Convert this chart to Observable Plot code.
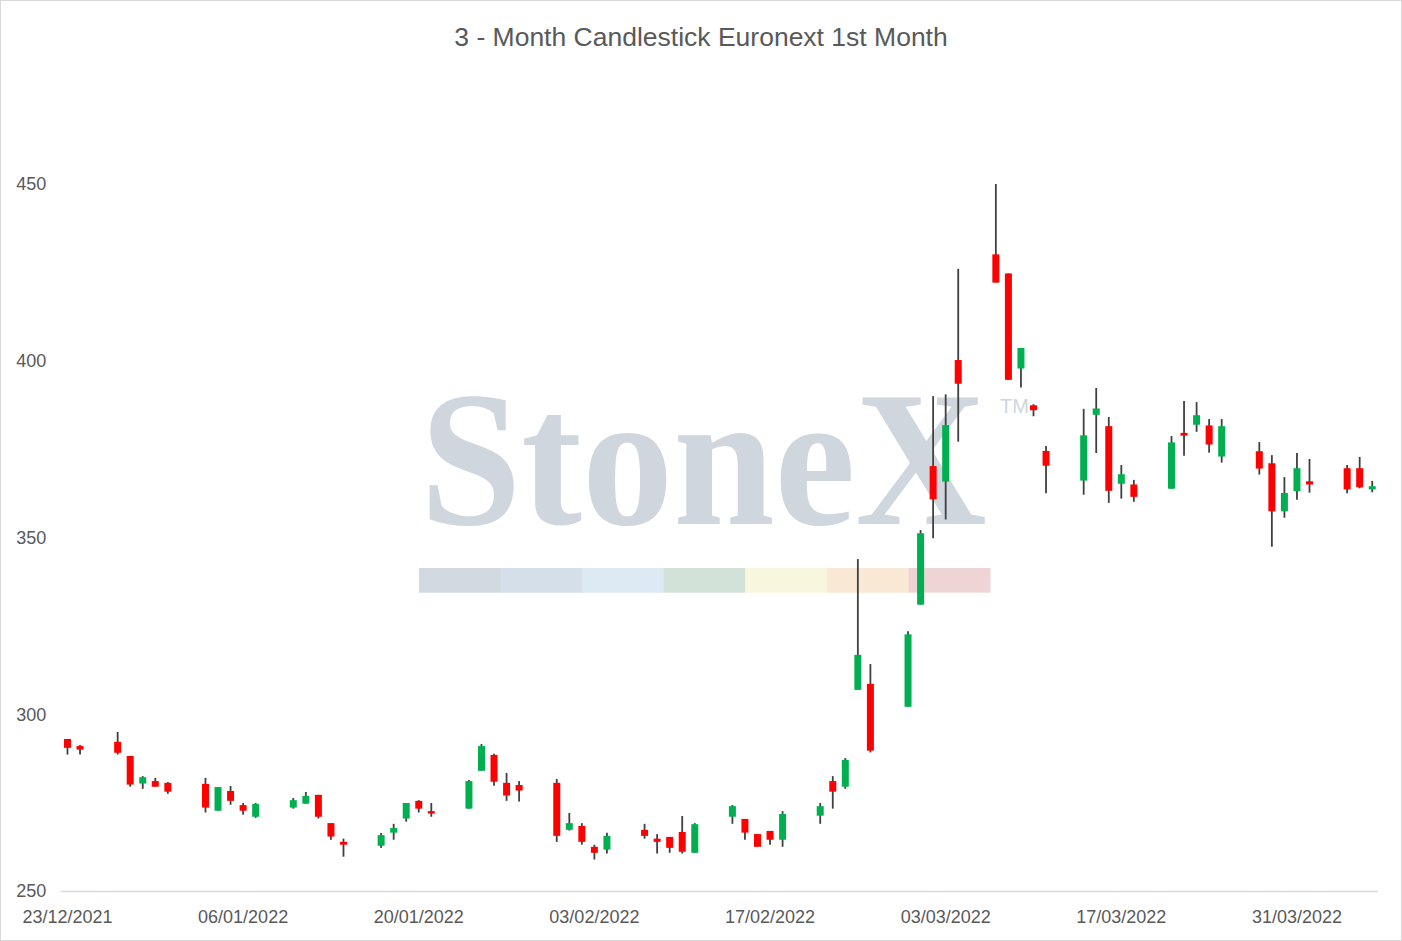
<!DOCTYPE html>
<html>
<head>
<meta charset="utf-8">
<script src="https://cdn.jsdelivr.net/npm/d3@7"></script>
<script src="https://cdn.jsdelivr.net/npm/@observablehq/plot@0.6"></script>
<style>
  html, body { margin: 0; padding: 0; background: #fff; }
  #wrap { position: relative; width: 1402px; height: 941px; box-sizing: border-box; border: 1px solid #d9d9d9; background: #fff; overflow: hidden; }
  #title { position: absolute; left: 0; right: 0; top: 23px; text-align: center; font: 26.5px/26px "Liberation Sans", Arial, sans-serif; color: #595959; }
  #chart { position: absolute; left: 0; top: 69px; }
</style>
</head>
<body>
<div id="wrap">
  <div id="title">3 - Month Candlestick Euronext 1st Month</div>
  <div id="chart"></div>
</div>
<script>
const dates = [
  "2021-12-23","2021-12-24","2021-12-27","2021-12-28","2021-12-29","2021-12-30","2021-12-31",
  "2022-01-03","2022-01-04","2022-01-05","2022-01-06","2022-01-07",
  "2022-01-10","2022-01-11","2022-01-12","2022-01-13","2022-01-14",
  "2022-01-17","2022-01-18","2022-01-19","2022-01-20","2022-01-21",
  "2022-01-24","2022-01-25","2022-01-26","2022-01-27","2022-01-28",
  "2022-01-31","2022-02-01","2022-02-02","2022-02-03","2022-02-04",
  "2022-02-07","2022-02-08","2022-02-09","2022-02-10","2022-02-11",
  "2022-02-14","2022-02-15","2022-02-16","2022-02-17","2022-02-18",
  "2022-02-21","2022-02-22","2022-02-23","2022-02-24","2022-02-25",
  "2022-02-28","2022-03-01","2022-03-02","2022-03-03","2022-03-04",
  "2022-03-07","2022-03-08","2022-03-09","2022-03-10","2022-03-11",
  "2022-03-14","2022-03-15","2022-03-16","2022-03-17","2022-03-18",
  "2022-03-21","2022-03-22","2022-03-23","2022-03-24","2022-03-25",
  "2022-03-28","2022-03-29","2022-03-30","2022-03-31","2022-04-01",
  "2022-04-04","2022-04-05","2022-04-06"
];
const open = [
  293.0,291.0,292.2,288.2,280.4,281.1,280.6,
  280.3,272.7,278.3,274.3,271.0,
  273.6,274.7,277.2,269.2,263.9,
  262.8,266.5,270.5,275.5,272.6,
  273.3,284.0,288.5,280.6,280.0,
  280.6,267.3,268.4,262.5,261.7,
  267.3,264.8,265.3,266.7,260.8,
  271.0,270.4,266.1,267.0,264.5,
  271.3,281.1,279.5,306.9,308.6,
  302.1,331.0,370.2,365.8,400.2,
  430.1,424.7,397.8,387.4,374.5,
  366.1,384.7,381.5,365.2,365.0,
  363.8,379.6,381.9,381.7,372.9,
  374.4,371.0,357.4,363.1,365.9,
  369.6,369.6,363.6
];
const high = [
  293.0,291.3,295.0,288.2,282.5,282.0,280.8,
  282.0,279.4,279.7,274.9,274.9,
  276.3,278.0,277.2,269.2,264.8,
  266.4,269.0,274.9,275.7,274.9,
  281.4,291.6,288.8,283.4,281.1,
  281.7,272.1,269.2,263.1,266.5,
  269.0,266.1,265.3,271.2,269.2,
  274.3,270.4,266.1,267.0,272.6,
  274.9,282.5,287.6,343.9,314.2,
  323.5,352.1,390.0,390.5,426.0,
  450.0,424.7,403.6,387.7,375.9,
  386.4,392.3,384.1,370.5,366.3,
  378.7,388.6,388.3,383.5,383.5,
  377.0,373.3,367.1,373.9,372.2,
  370.5,372.8,366.0
];
const low = [
  288.6,288.6,288.6,279.5,278.9,279.5,277.5,
  272.2,272.7,274.4,271.6,270.7,
  273.3,274.7,270.5,264.5,259.7,
  262.2,264.5,269.6,272.2,271.0,
  273.3,284.0,279.8,275.5,275.3,
  263.9,267.1,263.1,258.9,260.6,
  264.8,260.6,260.8,260.6,260.8,
  269.0,264.5,262.5,263.1,262.5,
  269.0,273.3,278.9,306.9,289.2,
  302.1,331.0,349.8,355.1,377.1,
  422.1,394.6,392.4,384.3,362.5,
  362.1,373.9,359.8,361.0,360.1,
  363.8,373.1,379.9,374.0,371.2,
  367.8,347.4,355.6,360.7,362.7,
  362.5,363.9,362.8
];
const close = [
  290.5,290.0,289.1,280.1,282.2,279.5,278.1,
  273.6,279.4,275.5,272.7,274.6,
  275.7,276.9,271.0,265.4,263.1,
  265.8,267.8,274.9,273.3,271.9,
  281.1,291.0,280.9,277.0,278.4,
  265.6,269.2,263.9,260.8,265.6,
  265.6,263.9,262.2,261.1,268.9,
  274.0,266.5,262.5,264.5,271.8,
  274.0,278.1,287.1,316.8,289.7,
  322.6,351.2,360.8,381.8,393.5,
  422.1,394.6,403.6,386.0,370.3,
  378.9,386.5,363.2,367.9,361.5,
  376.9,378.8,384.6,376.3,381.5,
  369.5,357.4,362.6,369.6,365.0,
  363.6,364.2,364.5
];
const xTickLabels = ["2021-12-23","2022-01-06","2022-01-20","2022-02-03","2022-02-17","2022-03-03","2022-03-17","2022-03-31"];
const yTicks = [250, 300, 350, 400, 450];

const data = dates.map((d, i) => ({
  date: new Date(d + "T00:00:00Z"),
  open: open[i], high: high[i], low: low[i], close: close[i],
  up: close[i] >= open[i]
}));
const xTicks = xTickLabels.map(d => new Date(d + "T00:00:00Z"));
const fmt = d3.utcFormat("%d/%m/%Y");

const plot = Plot.plot({
  width: 1400,
  height: 870,
  marginLeft: 59.7,
  marginRight: 23,
  marginTop: 114,
  marginBottom: 49,
  style: { background: "transparent", fontFamily: "'Liberation Sans', Arial, sans-serif", fontSize: "18px", color: "#595959" },
  x: { type: "utc", domain: [new Date(Date.UTC(2021, 11, 22, 12)), new Date(Date.UTC(2022, 3, 6, 12))] },
  y: { domain: [250, 450] },
  marks: [
    Plot.ruleY([250], { stroke: "#d9d9d9", strokeWidth: 1.3 }),
    Plot.axisY({ ticks: yTicks, tickSize: 0, tickPadding: 15, label: null, fontSize: 18, fill: "#595959" }),
    Plot.axisX({ ticks: xTicks, tickFormat: fmt, tickSize: 0, tickPadding: 19, label: null, fontSize: 18, fill: "#595959" }),
    Plot.ruleX(data, { x: "date", y1: "low", y2: "high", stroke: "#404040", strokeWidth: 1.8 }),
    Plot.ruleX(data, { x: "date", y1: "open", y2: "close", stroke: d => d.up ? "#00b050" : "#ff0000", strokeWidth: 7 })
  ]
});

document.getElementById("chart").appendChild(plot);

// StoneX watermark (decoration behind the chart)
const svg = d3.select(plot);
const wm = svg.insert("g", ":first-child").attr("class", "watermark").attr("text-anchor", "start");
const logo = wm.append("text")
  .attr("x", 0).attr("y", 0)
  .attr("text-anchor", "start")
  .style("font-family", "'Liberation Serif', 'DejaVu Serif', serif")
  .style("font-weight", "bold")
  .style("font-size", "192px")
  .attr("fill", "#cfd6de")
  .text("StoneX");
const natural = logo.node().getComputedTextLength() || 597;
logo.attr("transform", `translate(419,454) scale(${567 / natural},1)`);
wm.append("text")
  .attr("x", 999).attr("y", 343)
  .attr("text-anchor", "start")
  .style("font-family", "'Liberation Sans', Arial, sans-serif")
  .style("font-size", "20px")
  .attr("fill", "#cfd6de")
  .text("TM");
const barColors = ["#d2d9e1", "#d4dfea", "#dde9f3", "#d3e2d8", "#f8f6dd", "#f8e8d4", "#efd4d6"];
const segW = (989 - 418) / barColors.length;
barColors.forEach((c, i) => {
  wm.append("rect").attr("x", 418 + i * segW).attr("y", 498).attr("width", segW + 0.5).attr("height", 24.7).attr("fill", c);
});
</script>
</body>
</html>
